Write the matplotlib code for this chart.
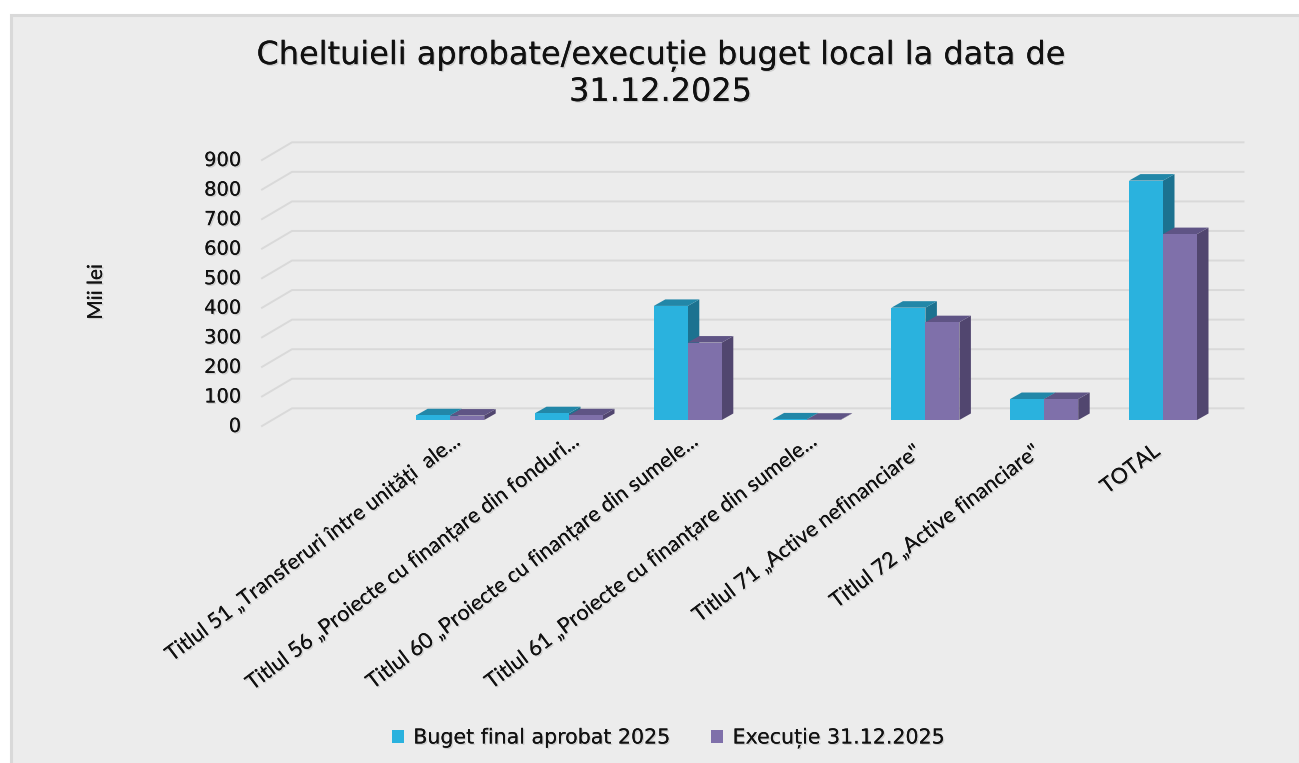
import matplotlib
matplotlib.use("Agg")
import matplotlib.pyplot as plt
import matplotlib.patheffects as pe
from matplotlib.patches import Rectangle
from matplotlib.transforms import ScaledTranslation

# ---- data ----
categories = ["",
              "Titlul 51 „Transferuri între unități  ale...",
              "Titlul 56 „Proiecte cu finanțare din fonduri...",
              "Titlul 60 „Proiecte cu finanțare din sumele...",
              "Titlul 61 „Proiecte cu finanțare din sumele...",
              "Titlul 71 „Active nefinanciare\"",
              "Titlul 72 „Active financiare\"",
              "TOTAL"]
buget = [None, 16, 23, 386, 2, 380, 71, 810]
executie = [None, 15, 16, 262, 1, 331, 71, 629]
yticks = [0, 100, 200, 300, 400, 500, 600, 700, 800, 900]
title = "Cheltuieli aprobate/execuție buget local la data de\n31.12.2025"
ylabel = "Mii lei"
series_names = ["Buget final aprobat 2025", "Execuție 31.12.2025"]

# ---- style ----
W, H = 1299, 763
BG = "#ECECEC"
GRID = "#D9D9D9"
BLUE = ("#2AB2DE", "#2287A8", "#1C7290")
PURPLE = ("#7F70AA", "#5F5485", "#51466F")
shadow = [pe.withSimplePatchShadow(offset=(1, -1), shadow_rgbFace="k", alpha=0.12), pe.Normal()]

fig = plt.figure(figsize=(W / 100, H / 100), dpi=100, facecolor="white")
fig.add_artist(Rectangle((10.5 / W, -0.01), (W - 10) / W, 1 - 15 / H + 0.01, transform=fig.transFigure,
                         facecolor=BG, edgecolor=GRID, linewidth=2.2, zorder=-5))

L, R, Y0, YT = 272.0, 1222.4, 420.0, 154.0
ax = fig.add_axes([L / W, 1 - Y0 / H, (R - L) / W, (Y0 - YT) / H])
ax.patch.set_visible(False)
ax.set_xlim(-0.5, 7.5)
ax.set_ylim(0, 900)
for s in ax.spines.values():
    s.set_visible(False)
ax.tick_params(length=0)

px = (R - L) / 8          # pixels per category
py = (Y0 - YT) / 900      # pixels per value unit
def dx(p): return p / px
def dy(p): return p / py

# floor + wall grid lines
x_front, x_back = dx(-10) - 0.5, dx(20) - 0.5
x_end = -0.5 + dx(1243.5 - L)
for t in yticks:
    ax.plot([x_front, x_back, x_end], [t - dy(6), t + dy(11.7), t + dy(11.7)],
            color=GRID, lw=1.4, clip_on=False, zorder=1, solid_joinstyle="miter")

# 3-D bars
BW = 34 / px
DX, DY = dx(11.5), dy(6.5)
def bars(values, offset, col, label, z):
    xs = [i for i, v in enumerate(values) if v is not None]
    vs = [values[i] for i in xs]
    cont = ax.bar([x + offset for x in xs], vs, width=BW, color=col[0], align="edge",
                  zorder=z + 1, label=label, linewidth=0)
    for x, v in zip(xs, vs):
        a, b = x + offset, x + offset + BW
        ax.fill([b, b + DX, b + DX, b], [0, DY, v + DY, v], color=col[2], lw=0, zorder=z, clip_on=False)
        ax.fill([a, a + DX, b + DX, b], [v, v + DY, v + DY, v], color=col[1], lw=0, zorder=z, clip_on=False)
    return cont

h1 = bars(buget, -BW, BLUE, series_names[0], 3)
h2 = bars(executie, 0, PURPLE, series_names[1], 5)

# y tick labels
ax.set_xticks([])
ax.set_yticks([])
for t in yticks:
    ax.annotate(f"{t}", xy=(-0.5, t), xycoords="data", xytext=(241 - L, -6.5), textcoords="offset pixels",
                ha="right", va="center", fontsize=14, family="DejaVu Sans", color="#111111",
                path_effects=shadow, annotation_clip=False)

# category labels
shift = [0, 0, 0, 0, 0, -18, -18, -18]
for i, c in enumerate(categories):
    if not c:
        continue
    off = ScaledTranslation((9 + shift[i] * 0.8) / 100, -(18 - shift[i] * 0.6) / 100, fig.dpi_scale_trans)
    ax.text(i, 0, c, rotation=37, rotation_mode="anchor", ha="right", va="center",
            fontsize=15.4, family=["Lato", "DejaVu Sans"], color="#111111",
            transform=ax.transData + off, path_effects=shadow, clip_on=False)

fig.text(96 / W, 1 - 292 / H, ylabel, rotation=90, ha="center", va="center",
         fontsize=15, family=["Lato", "DejaVu Sans"], color="#111111", path_effects=shadow)
fig.text(661 / W, 1 - 74 / H, title, ha="center", va="center", fontsize=23, linespacing=1.2,
         family="DejaVu Sans", color="#111111", path_effects=shadow)

leg = fig.legend(handles=[h1, h2], loc="center", bbox_to_anchor=(668 / W, 1 - 738 / H), ncol=2,
                 frameon=False, handlelength=0.6, handleheight=0.6, handletextpad=0.45,
                 columnspacing=2.0, prop={"family": "DejaVu Sans", "size": 14.8})
for t in leg.get_texts():
    t.set_color("#111111")
    t.set_path_effects(shadow)

fig.savefig("out.png", dpi=100, facecolor="white")
